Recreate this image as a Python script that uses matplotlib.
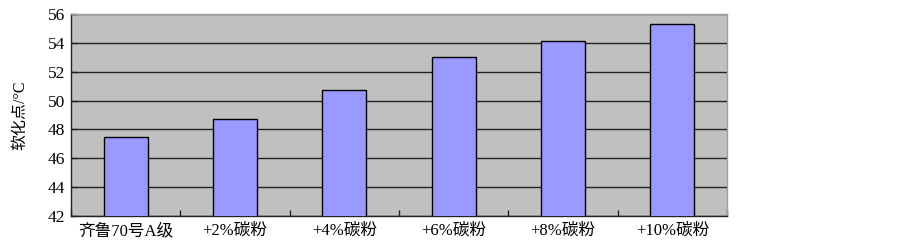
import matplotlib
matplotlib.use("Agg")
import matplotlib.pyplot as plt
import numpy as np

# data
categories = ["齐鲁70号A级", "+2%碳粉", "+4%碳粉", "+6%碳粉", "+8%碳粉", "+10%碳粉"]
softening_point = [47.5, 48.7, 50.7, 53.0, 54.1, 55.3]
y_ticks = [42, 44, 46, 48, 50, 52, 54, 56]

plt.rcParams['font.family'] = ['Liberation Serif', 'Noto Sans CJK SC', 'DejaVu Sans']

fig = plt.figure(figsize=(9, 2.43), dpi=100)
ax = fig.add_axes([71 / 900, 1 - 216 / 243, (727 - 71) / 900, (216 - 14) / 243])

x = np.arange(len(categories))
ax.set_facecolor("#c0c0c0")
ax.bar(x, softening_point, width=0.4, bottom=0, color="#9999ff",
       edgecolor="black", linewidth=1.0, zorder=3)

ax.set_xlim(-0.5, len(categories) - 0.5)
ax.set_ylim(42, 56)
ax.set_yticks(y_ticks)
ax.set_yticklabels([str(v) for v in y_ticks], fontsize=12.5)
ax.yaxis.grid(True, color="#222222", linewidth=1.0, zorder=1)
ax.set_axisbelow(True)

# category labels in the middle, ticks between categories
ax.set_xticks(x)
ax.set_xticklabels(categories, fontsize=12)
ax.tick_params(axis="x", which="major", length=0, pad=5)
ax.set_xticks(np.arange(len(categories) + 1) - 0.5, minor=True)
ax.tick_params(axis="x", which="minor", direction="in", length=4, width=1, color="#222222")
ax.tick_params(axis="y", direction="in", length=4, width=1, color="#222222", pad=4)

ax.set_ylabel("软化点/°C", fontsize=11.5, labelpad=14)

for side in ["left", "bottom"]:
    ax.spines[side].set_color("#222222")
    ax.spines[side].set_linewidth(1.0)
for side in ["top", "right"]:
    ax.spines[side].set_color("#a0a0a0")
    ax.spines[side].set_linewidth(1.0)

fig.savefig("out.png", dpi=100, facecolor="white")
